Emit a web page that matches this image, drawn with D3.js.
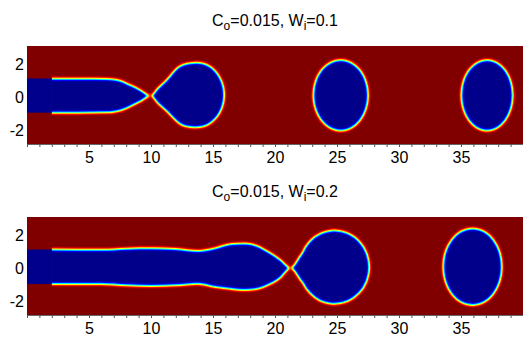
<!DOCTYPE html>
<html><head><meta charset="utf-8">
<script src="https://cdn.jsdelivr.net/npm/d3@7"></script>
<style>
body{margin:0;background:#fff}
svg{display:block}
text{font-family:"Liberation Sans",Arial,Helvetica,sans-serif;fill:#000}
</style>
</head><body>
<svg id="chart" width="523" height="342"></svg>
<script>
// ---------- data (in plot units) ----------
const xDomain = [0, 40];
const yDomain = [-2.85, 3.09];
const xTickValues = [5, 10, 15, 20, 25, 30, 35];
const yTickValues = [2, 0, -2];
const minorTickValues = d3.range(0, 41, 1);
const titleC = ["0.015", "0.015"];
const titleW = ["0.1", "0.2"];

// jet colormap
const jetStops  = [0, 0.125, 0.375, 0.625, 0.875, 1];
const jetColors = ["#00008c", "#0000ff", "#00ffff", "#ffff00", "#ff0000", "#800000"];

// inlet (sharp region)
const inletLength = 2;
const inletUpper = [1.12, 1.12];
const inletLower = [-0.95, -0.97];

// panel 1: C_o=0.015, W_i=0.1
const jet1X     = [-1, 2, 4, 6.5, 7.5, 8.3, 9.1, 9.98, 10.6, 11.3, 12.3, 13.0, 13.7];
const jet1Upper = [1.12, 1.11, 1.11, 1.09, 0.99, 0.72, 0.43, 0.08, 0.55, 1.05, 1.84, 2.03, 2.08];
const jet1Lower = [-0.95, -0.95, -0.95, -0.93, -0.82, -0.57, -0.28, 0.08, -0.40, -0.87, -1.60, -1.80, -1.84];
const bulb1 = {cx: 13.7, cy: 0.12, rx: 2.2, ry: 1.96};
const drop1Cx = [25.3, 37.1];
const drop1Cy = [0.10, 0.10];
const drop1Rx = [2.2, 2.07];
const drop1Ry = [2.14, 2.14];

// panel 2: C_o=0.015, W_i=0.2
const jet2X     = [-1, 2, 6, 8, 10, 12, 13.8, 15.2, 16.5, 17.5, 18.5, 19.5, 20.4, 21.26, 22.15, 22.96, 23.6, 24.8];
const jet2Upper = [1.12, 1.12, 1.10, 1.17, 1.19, 1.15, 1.03, 1.20, 1.45, 1.49, 1.35, 0.95, 0.50, 0.0, 0.83, 1.53, 2.0, 2.27];
const jet2Lower = [-0.97, -0.97, -0.97, -1.05, -1.09, -1.05, -0.95, -1.15, -1.27, -1.33, -1.27, -1.00, -0.60, 0.0, -0.80, -1.50, -1.95, -2.17];
const bulb2 = {cx: 24.8, cy: 0.05, rx: 2.8, ry: 2.22};
const drop2Cx = [35.93];
const drop2Cy = [0.07];
const drop2Rx = [2.36];
const drop2Ry = [2.33];

// ---------- rendering ----------
const svg = d3.select("#chart");
const defs = svg.append("defs");
const color = d3.scaleLinear().domain(jetStops).range(jetColors).clamp(true);

// colormap filter built from the colour scale: gray value -> jet colour
const nSamp = 64;
const samp = d3.range(nSamp + 1).map(i => d3.rgb(color(i / nSamp)));
const filt = defs.append("filter").attr("id", "jetmap")
  .attr("color-interpolation-filters", "sRGB")
  .attr("x", "-5%").attr("y", "-5%").attr("width", "110%").attr("height", "110%");
filt.append("feGaussianBlur").attr("stdDeviation", 1.75);
const ct = filt.append("feComponentTransfer");
ct.append("feFuncR").attr("type", "table").attr("tableValues", samp.map(c => (c.r / 255).toFixed(4)).join(" "));
ct.append("feFuncG").attr("type", "table").attr("tableValues", samp.map(c => (c.g / 255).toFixed(4)).join(" "));
ct.append("feFuncB").attr("type", "table").attr("tableValues", samp.map(c => (c.b / 255).toFixed(4)).join(" "));

const panels = [
  {top: 46, jx: jet1X, ju: jet1Upper, jl: jet1Lower, bulb: bulb1,
   drops: d3.range(drop1Cx.length).map(i => ({cx: drop1Cx[i], cy: drop1Cy[i], rx: drop1Rx[i], ry: drop1Ry[i]}))},
  {top: 217, jx: jet2X, ju: jet2Upper, jl: jet2Lower, bulb: bulb2,
   drops: d3.range(drop2Cx.length).map(i => ({cx: drop2Cx[i], cy: drop2Cy[i], rx: drop2Rx[i], ry: drop2Ry[i]}))}
];

const plotLeft = 27, plotRight = 523, plotH = 98;
const x = d3.scaleLinear().domain(xDomain).range([plotLeft, plotRight]);

panels.forEach((p, i) => {
  const y = d3.scaleLinear().domain(yDomain).range([plotH, 0]);
  const g = svg.append("g").attr("transform", `translate(0,${p.top})`);

  defs.append("clipPath").attr("id", "clip" + i).append("rect")
    .attr("x", plotLeft).attr("y", 0).attr("width", plotRight - plotLeft).attr("height", plotH);

  const plot = g.append("g").attr("clip-path", `url(#clip${i})`);
  const field = plot.append("g").attr("filter", "url(#jetmap)");
  field.append("rect").attr("x", plotLeft - 20).attr("y", -20)
    .attr("width", plotRight - plotLeft + 40).attr("height", plotH + 40).attr("fill", "#fff");

  const area = d3.area()
    .x(d => x(d[0])).y0(d => y(d[2])).y1(d => y(d[1]))
    .curve(d3.curveMonotoneX);
  field.append("path").datum(d3.zip(p.jx, p.ju, p.jl)).attr("d", area).attr("fill", "#000");

  const blobs = [p.bulb].concat(p.drops);
  field.selectAll("ellipse").data(blobs).join("ellipse")
    .attr("cx", d => x(d.cx)).attr("cy", d => y(d.cy))
    .attr("rx", d => x(d.rx) - x(0)).attr("ry", d => y(0) - y(d.ry))
    .attr("fill", "#000");

  // sharp inlet region
  plot.append("rect").attr("x", x(0) - 2).attr("y", 0)
    .attr("width", x(inletLength) - x(0) + 2).attr("height", plotH).attr("fill", color(1));
  plot.append("rect").attr("x", x(0) - 2).attr("y", y(inletUpper[i]))
    .attr("width", x(inletLength) - x(0) + 2).attr("height", y(inletLower[i]) - y(inletUpper[i]))
    .attr("fill", color(0));

  // x axis: minor ticks
  const minor = g.append("g").attr("transform", `translate(0,${plotH})`)
    .call(d3.axisBottom(x).tickValues(minorTickValues).tickSize(3).tickFormat(""));
  minor.select(".domain").attr("stroke", "#666").attr("stroke-width", 1);
  minor.selectAll(".tick line").attr("stroke", "#555");

  // x axis labels
  const major = g.append("g").attr("transform", `translate(0,${plotH})`)
    .call(d3.axisBottom(x).tickValues(xTickValues).tickSize(0).tickPadding(8).tickFormat(d => String(d)));
  major.select(".domain").remove();
  major.selectAll("text").attr("font-size", 16).attr("font-family", null);

  // y axis labels
  const ya = g.append("g").attr("transform", `translate(${plotLeft},0)`)
    .call(d3.axisLeft(y).tickValues(yTickValues).tickSize(0).tickPadding(3).tickFormat(d => String(d)));
  ya.select(".domain").remove();
  ya.selectAll("text").attr("font-size", 16).attr("font-family", null);

  // title
  const t = g.append("text").attr("x", (plotLeft + plotRight) / 2).attr("y", -20)
    .attr("text-anchor", "middle").attr("font-size", 16);
  t.append("tspan").text("C");
  t.append("tspan").attr("font-size", 12).attr("dy", 4).text("o");
  t.append("tspan").attr("dy", -4).text("=" + titleC[i] + ", W");
  t.append("tspan").attr("font-size", 12).attr("dy", 4).text("i");
  t.append("tspan").attr("dy", -4).text("=" + titleW[i]);
});
</script>
</body></html>
